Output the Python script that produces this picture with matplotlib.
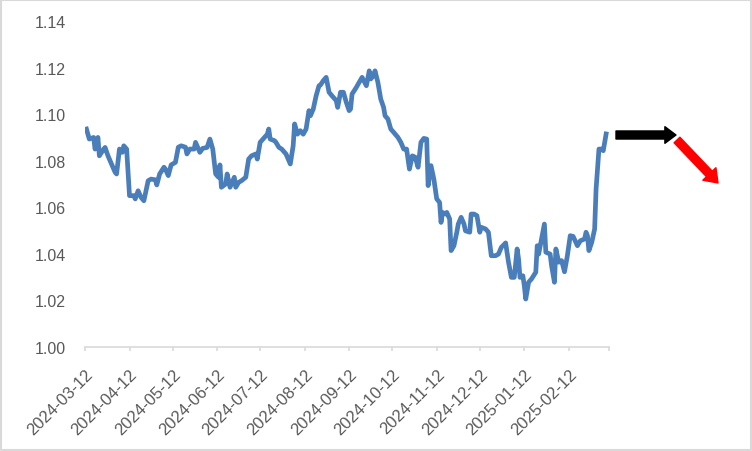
import numpy as np
import pandas as pd
import matplotlib
matplotlib.use("Agg")
import matplotlib.pyplot as plt
from matplotlib.patches import Rectangle

plt.rcParams['font.family'] = ['Liberation Sans', 'DejaVu Sans']

# daily rate
dates = [
    "2024-03-13", "2024-03-15", "2024-03-18", "2024-03-19", "2024-03-21", "2024-03-22",
    "2024-03-25", "2024-03-26", "2024-03-28", "2024-04-02", "2024-04-03", "2024-04-05",
    "2024-04-07", "2024-04-08", "2024-04-10", "2024-04-12", "2024-04-15", "2024-04-16",
    "2024-04-18", "2024-04-20", "2024-04-22", "2024-04-25", "2024-04-27", "2024-04-30",
    "2024-05-01", "2024-05-03", "2024-05-06", "2024-05-07", "2024-05-09", "2024-05-11",
    "2024-05-14", "2024-05-16", "2024-05-18", "2024-05-21", "2024-05-22", "2024-05-24",
    "2024-05-27", "2024-05-28", "2024-05-31", "2024-06-02", "2024-06-05", "2024-06-07",
    "2024-06-09", "2024-06-11", "2024-06-13", "2024-06-14", "2024-06-15", "2024-06-18",
    "2024-06-19", "2024-06-21", "2024-06-24", "2024-06-25", "2024-06-27", "2024-06-29",
    "2024-07-02", "2024-07-04", "2024-07-06", "2024-07-09", "2024-07-10", "2024-07-12",
    "2024-07-14", "2024-07-17", "2024-07-18", "2024-07-19", "2024-07-22", "2024-07-23",
    "2024-07-25", "2024-07-27", "2024-07-30", "2024-07-31", "2024-08-02", "2024-08-04",
    "2024-08-05", "2024-08-07", "2024-08-09", "2024-08-11", "2024-08-13", "2024-08-15",
    "2024-08-16", "2024-08-18", "2024-08-20", "2024-08-22", "2024-08-23", "2024-08-25",
    "2024-08-27", "2024-08-29", "2024-08-31", "2024-09-03", "2024-09-04", "2024-09-06",
    "2024-09-08", "2024-09-10", "2024-09-12", "2024-09-13", "2024-09-14", "2024-09-17",
    "2024-09-19", "2024-09-21", "2024-09-24", "2024-09-26", "2024-09-27", "2024-09-29",
    "2024-09-30", "2024-10-02", "2024-10-04", "2024-10-06", "2024-10-07", "2024-10-09",
    "2024-10-11", "2024-10-13", "2024-10-16", "2024-10-18", "2024-10-20", "2024-10-22",
    "2024-10-24", "2024-10-26", "2024-10-28", "2024-10-30", "2024-11-01", "2024-11-03",
    "2024-11-05", "2024-11-06", "2024-11-08", "2024-11-10", "2024-11-12", "2024-11-14",
    "2024-11-15", "2024-11-16", "2024-11-18", "2024-11-19", "2024-11-21", "2024-11-22",
    "2024-11-24", "2024-11-26", "2024-11-27", "2024-11-29", "2024-12-01", "2024-12-02",
    "2024-12-05", "2024-12-06", "2024-12-08", "2024-12-10", "2024-12-12", "2024-12-13",
    "2024-12-16", "2024-12-18", "2024-12-20", "2024-12-23", "2024-12-25", "2024-12-27",
    "2024-12-30", "2025-01-01", "2025-01-03", "2025-01-05", "2025-01-07", "2025-01-08",
    "2025-01-09", "2025-01-11", "2025-01-12", "2025-01-13", "2025-01-15", "2025-01-17",
    "2025-01-20", "2025-01-21", "2025-01-22", "2025-01-24", "2025-01-26", "2025-01-27",
    "2025-01-30", "2025-01-31", "2025-02-02", "2025-02-03", "2025-02-05", "2025-02-07",
    "2025-02-09", "2025-02-11", "2025-02-13", "2025-02-15", "2025-02-18", "2025-02-20",
    "2025-02-23", "2025-02-24", "2025-02-25", "2025-02-26", "2025-02-28", "2025-03-02",
    "2025-03-03", "2025-03-05", "2025-03-07", "2025-03-08", "2025-03-10",
]
rates = [
    1.0936, 1.0893, 1.0900, 1.0850, 1.0900, 1.0821,
    1.0850, 1.0857, 1.0821, 1.0750, 1.0743, 1.0850,
    1.0836, 1.0864, 1.0850, 1.0650, 1.0650, 1.0636,
    1.0671, 1.0643, 1.0628, 1.0714, 1.0721, 1.0718,
    1.0696, 1.0743, 1.0772, 1.0764, 1.0736, 1.0782,
    1.0793, 1.0858, 1.0864, 1.0858, 1.0829, 1.0850,
    1.0850, 1.0879, 1.0836, 1.0853, 1.0857, 1.0893,
    1.0850, 1.0743, 1.0729, 1.0782, 1.0686, 1.0700,
    1.0743, 1.0686, 1.0729, 1.0686, 1.0707, 1.0714,
    1.0729, 1.0807, 1.0821, 1.0829, 1.0807, 1.0879,
    1.0893, 1.0914, 1.0936, 1.0893, 1.0886, 1.0879,
    1.0858, 1.0850, 1.0829, 1.0815, 1.0786, 1.0864,
    1.0958, 1.0914, 1.0929, 1.0914, 1.0936, 1.1015,
    1.0993, 1.1022, 1.1079, 1.1122, 1.1125, 1.1144,
    1.1158, 1.1094, 1.1079, 1.1058, 1.1029, 1.1094,
    1.1094, 1.1051, 1.1015, 1.1022, 1.1086, 1.1115,
    1.1137, 1.1158, 1.1122, 1.1186, 1.1151, 1.1165,
    1.1186, 1.1137, 1.1065, 1.1029, 1.0993, 1.0979,
    1.0936, 1.0922, 1.0900, 1.0879, 1.0850, 1.0850,
    1.0764, 1.0821, 1.0815, 1.0772, 1.0879, 1.0896,
    1.0893, 1.0693, 1.0779, 1.0721, 1.0636, 1.0621,
    1.0535, 1.0578, 1.0571, 1.0578, 1.0550, 1.0414,
    1.0435, 1.0493, 1.0528, 1.0557, 1.0528, 1.0499,
    1.0493, 1.0571, 1.0571, 1.0564, 1.0493, 1.0514,
    1.0507, 1.0493, 1.0392, 1.0392, 1.0399, 1.0428,
    1.0447, 1.0364, 1.0299, 1.0299, 1.0421, 1.0378,
    1.0299, 1.0306, 1.0263, 1.0206, 1.0278, 1.0292,
    1.0321, 1.0435, 1.0399, 1.0464, 1.0528, 1.0407,
    1.0399, 1.0349, 1.0278, 1.0421, 1.0364, 1.0371,
    1.0323, 1.0392, 1.0478, 1.0475, 1.0435, 1.0456,
    1.0464, 1.0493, 1.0478, 1.0414, 1.0450, 1.0507,
    1.0678, 1.0850, 1.0850, 1.0843, 1.0915,
]

tick_dates = ["2024-03-12", "2024-04-12", "2024-05-12", "2024-06-12", "2024-07-12",
              "2024-08-12", "2024-09-12", "2024-10-12", "2024-11-12", "2024-12-12",
              "2025-01-12", "2025-02-12", "2025-03-12"]
tick_labels = tick_dates[:-1] + [""]
y_ticks = [1.00, 1.02, 1.04, 1.06, 1.08, 1.10, 1.12, 1.14]

x = pd.to_datetime(dates)
W, H = 752, 452
fig = plt.figure(figsize=(W / 100, H / 100), dpi=100)
ax = fig.add_axes([85 / W, (H - 348) / H, 524 / W, 326 / H])

ax.plot(x, rates, color="#4a7ebb", linewidth=3.4, solid_joinstyle="round")

ax.set_xlim(pd.Timestamp(tick_dates[0]), pd.Timestamp(tick_dates[-1]))
ax.set_ylim(1.00, 1.14)
ax.set_xticks(pd.to_datetime(tick_dates))
ax.set_xticklabels(tick_labels, rotation=45, ha="right", rotation_mode="anchor",
                   fontsize=12, color="#595959")
ax.set_yticks(y_ticks)
ax.set_yticklabels([f"{v:.2f}" for v in y_ticks], fontsize=11.5, color="#595959")

for s in ["left", "top", "right"]:
    ax.spines[s].set_visible(False)
ax.spines["bottom"].set_color("#d9d9d9")
ax.spines["bottom"].set_linewidth(1.2)
ax.tick_params(axis="x", length=3, color="#d9d9d9", width=1.2, pad=11)
ax.tick_params(axis="y", length=0, pad=14)

# arrows to the right of the plot
ax.annotate("", xy=(676, H - 136), xytext=(616, H - 136), xycoords="figure pixels",
            textcoords="figure pixels",
            arrowprops=dict(arrowstyle="simple,head_length=0.8,head_width=1.2,tail_width=0.58",
                            mutation_scale=10, color="black", shrinkA=0, shrinkB=0))
ax.annotate("", xy=(718, H - 184), xytext=(677, H - 141), xycoords="figure pixels",
            textcoords="figure pixels",
            arrowprops=dict(arrowstyle="simple,head_length=0.9,head_width=1.3,tail_width=0.58",
                            mutation_scale=10, color="red", shrinkA=0, shrinkB=0))

fig.patches.append(Rectangle((1 / W, 1 / H), (W - 2) / W, (H - 2) / H, transform=fig.transFigure,
                             fill=False, edgecolor="#d9d9d9", linewidth=1.5))

fig.savefig("out.png", dpi=100)
